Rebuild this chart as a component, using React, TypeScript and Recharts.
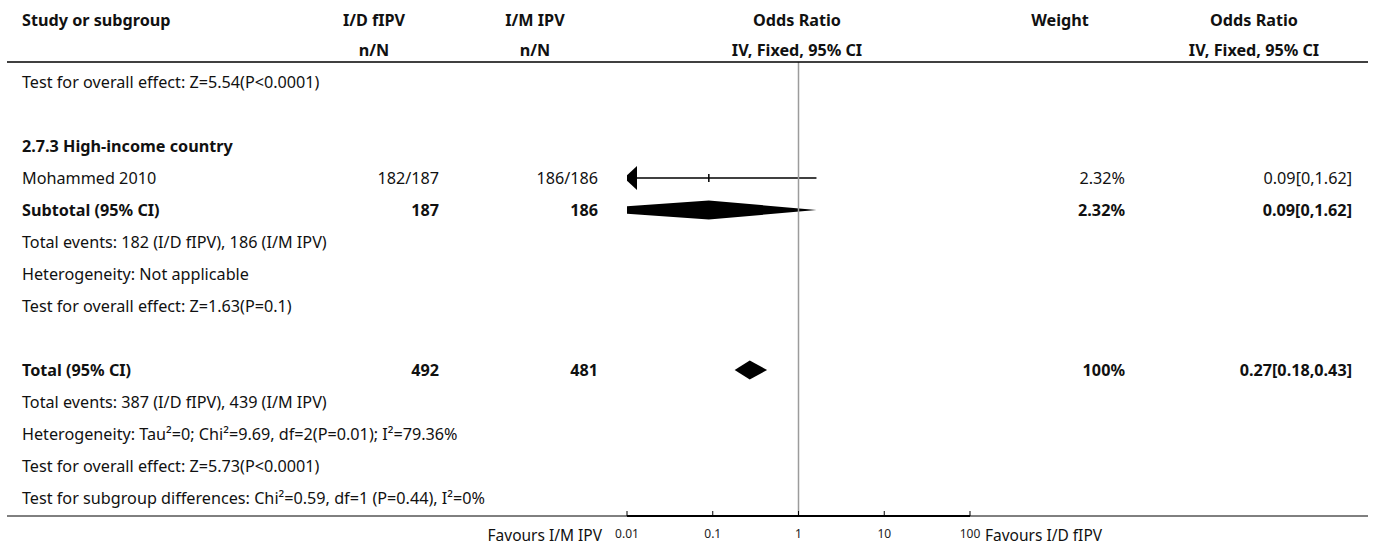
import React from 'react';
import { ComposedChart, Bar, XAxis, YAxis, ReferenceLine } from 'recharts';

// odds ratio axis
const AXIS_MIN = 0.01;
const AXIS_MAX = 100;
const axisTicks = [0.01, 0.1, 1, 10, 100];

// column headings
const headTop = ['Study or subgroup', 'I/D fIPV', 'I/M IPV', 'Odds Ratio', 'Weight', 'Odds Ratio'];
const headBottom = ['', 'n/N', 'n/N', 'IV, Fixed, 95% CI', '', 'IV, Fixed, 95% CI'];

// rows carrying a mark: row index, label, counts, OR with CI, weight
const markRows = [3, 4, 9];
const markNames = ['Mohammed 2010', 'Subtotal (95% CI)', 'Total (95% CI)'];
const markKinds = ['study', 'pooled', 'pooled'];
const exposedCounts = ['182/187', '187', '492'];
const controlCounts = ['186/186', '186', '481'];
const oddsRatios = [0.09, 0.09, 0.27];
const ciLower = [0, 0, 0.18];
const ciUpper = [1.62, 1.62, 0.43];
const weights = ['2.32%', '2.32%', '100%'];

// free text rows
const noteRows = [0, 2, 5, 6, 7, 10, 11, 12, 13];
const noteTexts = [
  'Test for overall effect: Z=5.54(P<0.0001)',
  '2.7.3 High-income country',
  'Total events: 182 (I/D fIPV), 186 (I/M IPV)',
  'Heterogeneity: Not applicable',
  'Test for overall effect: Z=1.63(P=0.1)',
  'Total events: 387 (I/D fIPV), 439 (I/M IPV)',
  'Heterogeneity: Tau²=0; Chi²=9.69, df=2(P=0.01); I²=79.36%',
  'Test for overall effect: Z=5.73(P<0.0001)',
  'Test for subgroup differences: Chi²=0.59, df=1 (P=0.44), I²=0%',
];
const noteBold = [false, true, false, false, false, false, false, false, false];

const W = 1375;
const H = 547;
const FONT = '"Noto Sans", "Open Sans", sans-serif';
const ROW0 = 82;
const ROW_H = 32;
const PLOT_TOP = 62;
const PLOT_BOTTOM = 516;
const PLOT_LEFT = 627;
const PLOT_RIGHT = 970;

const rowY = (r: number) => ROW0 + ROW_H * r;

const forestData = markRows.map((row, i) => ({
  row,
  kind: markKinds[i],
  or: oddsRatios[i],
  lo: ciLower[i],
  hi: ciUpper[i],
}));

const fmtCI = (i: number) => `${oddsRatios[i]}[${ciLower[i]},${ciUpper[i]}]`;

// line + box for a study, diamond for pooled estimates; CI clipped at the axis edge
const ForestMark = (props: any) => {
  const { x, y, width, height } = props;
  const d = props.payload ?? props;
  const cy = y + height / 2;
  const l0 = Math.log10(Math.max(d.lo, AXIS_MIN));
  const l1 = Math.log10(d.hi);
  const ox = x + (width * (Math.log10(d.or) - l0)) / (l1 - l0);
  const clipped = d.lo < AXIS_MIN;
  if (d.kind === 'study') {
    return (
      <g>
        <line x1={x} x2={x + width} y1={cy} y2={cy} stroke="#000" strokeWidth={1.5} />
        <line x1={ox} x2={ox} y1={cy - 4} y2={cy + 4} stroke="#000" strokeWidth={1.5} />
        {clipped && (
          <polygon points={`${x - 3},${cy} ${x + 10},${cy - 12} ${x + 10},${cy + 12}`} fill="#000" />
        )}
      </g>
    );
  }
  const hh = 9.5;
  const pts = clipped
    ? `${x - 3},${cy - 3.5} ${ox},${cy - hh} ${x + width},${cy} ${ox},${cy + hh} ${x - 3},${cy + 3.5}`
    : `${x},${cy} ${ox},${cy - hh} ${x + width},${cy} ${ox},${cy + hh}`;
  return <polygon points={pts} fill="#000" />;
};

const LogTick = (props: any) => {
  const { x, y, payload } = props;
  return (
    <g>
      <line x1={x} x2={x} y1={y} y2={y - 5} stroke="#000" strokeWidth={1} />
      <text x={x} y={y + 17} textAnchor="middle" dominantBaseline="central" fontSize={12} fill="#222" fontFamily={FONT}>
        {String(payload.value)}
      </text>
    </g>
  );
};

const colX = {
  study: 22,
  exposedHead: 374,
  exposedRight: 439,
  controlHead: 535,
  controlRight: 598,
  plotHead: 797,
  weightHead: 1060,
  weightRight: 1125,
  ciHead: 1254,
  ciRight: 1352,
};

const App: React.FC = () => {
  const headCenters = [colX.study, colX.exposedHead, colX.controlHead, colX.plotHead, colX.weightHead, colX.ciHead];
  return (
    <div style={{ position: 'relative', width: W, height: H, background: '#fff' }}>
      <style>{'body{margin:0}'}</style>
      <div style={{ position: 'absolute', left: 0, top: 0 }}>
        <ComposedChart
          width={W}
          height={H}
          layout="vertical"
          data={forestData}
          margin={{ top: PLOT_TOP, right: W - PLOT_RIGHT, bottom: 0, left: PLOT_LEFT }}
        >
          <XAxis
            type="number"
            scale="log"
            domain={[AXIS_MIN, AXIS_MAX]}
            allowDataOverflow
            ticks={axisTicks}
            interval={0}
            height={H - PLOT_BOTTOM}
            axisLine={{ stroke: '#000', strokeWidth: 2 }}
            tickLine={false}
            tickSize={0}
            tickMargin={0}
            tick={<LogTick />}
          />
          <YAxis
            type="number"
            dataKey="row"
            domain={[(PLOT_TOP - ROW0) / ROW_H, (PLOT_BOTTOM - ROW0) / ROW_H]}
            hide
          />
          <ReferenceLine x={1} stroke="#9c9c9c" strokeWidth={1.5} />
          <Bar
            dataKey={(d: any) => [Math.max(d.lo, AXIS_MIN), d.hi]}
            barSize={24}
            shape={<ForestMark />}
            isAnimationActive={false}
          />
        </ComposedChart>
      </div>
      <svg width={W} height={H} style={{ position: 'absolute', left: 0, top: 0, pointerEvents: 'none' }} fontFamily={FONT} fontSize={16.2} fill="#111">
        {headTop.map((t, i) => (
          <text key={'h1' + i} x={headCenters[i]} y={20} textAnchor={i === 0 ? 'start' : 'middle'} dominantBaseline="central" fontWeight="bold">
            {t}
          </text>
        ))}
        {headBottom.map((t, i) => (
          <text key={'h2' + i} x={headCenters[i]} y={50} textAnchor="middle" dominantBaseline="central" fontWeight="bold">
            {t}
          </text>
        ))}
        <line x1={7} x2={1368} y1={PLOT_TOP} y2={PLOT_TOP} stroke="#000" strokeWidth={1.5} />
        <line x1={7} x2={1368} y1={PLOT_BOTTOM} y2={PLOT_BOTTOM} stroke="#000" strokeWidth={1} />

        {noteTexts.map((t, i) => (
          <text key={'n' + i} x={colX.study} y={rowY(noteRows[i])} dominantBaseline="central" fontWeight={noteBold[i] ? 'bold' : 'normal'}>
            {t}
          </text>
        ))}

        {markRows.map((r, i) => {
          const bold = markKinds[i] === 'pooled';
          const fw = bold ? 'bold' : 'normal';
          const cy = rowY(r);
          return (
            <g key={'m' + i} fontWeight={fw}>
              <text x={colX.study} y={cy} dominantBaseline="central">{markNames[i]}</text>
              <text x={colX.exposedRight} y={cy} textAnchor="end" dominantBaseline="central">{exposedCounts[i]}</text>
              <text x={colX.controlRight} y={cy} textAnchor="end" dominantBaseline="central">{controlCounts[i]}</text>
              <text x={colX.weightRight} y={cy} textAnchor="end" dominantBaseline="central">{weights[i]}</text>
              <text x={colX.ciRight} y={cy} textAnchor="end" dominantBaseline="central">{fmtCI(i)}</text>
            </g>
          );
        })}

        <text x={602} y={535} textAnchor="end" dominantBaseline="central" fontSize={15.5}>Favours I/M IPV</text>
        <text x={985} y={535} dominantBaseline="central" fontSize={15.5}>Favours I/D fIPV</text>
      </svg>
    </div>
  );
};

export default App;
